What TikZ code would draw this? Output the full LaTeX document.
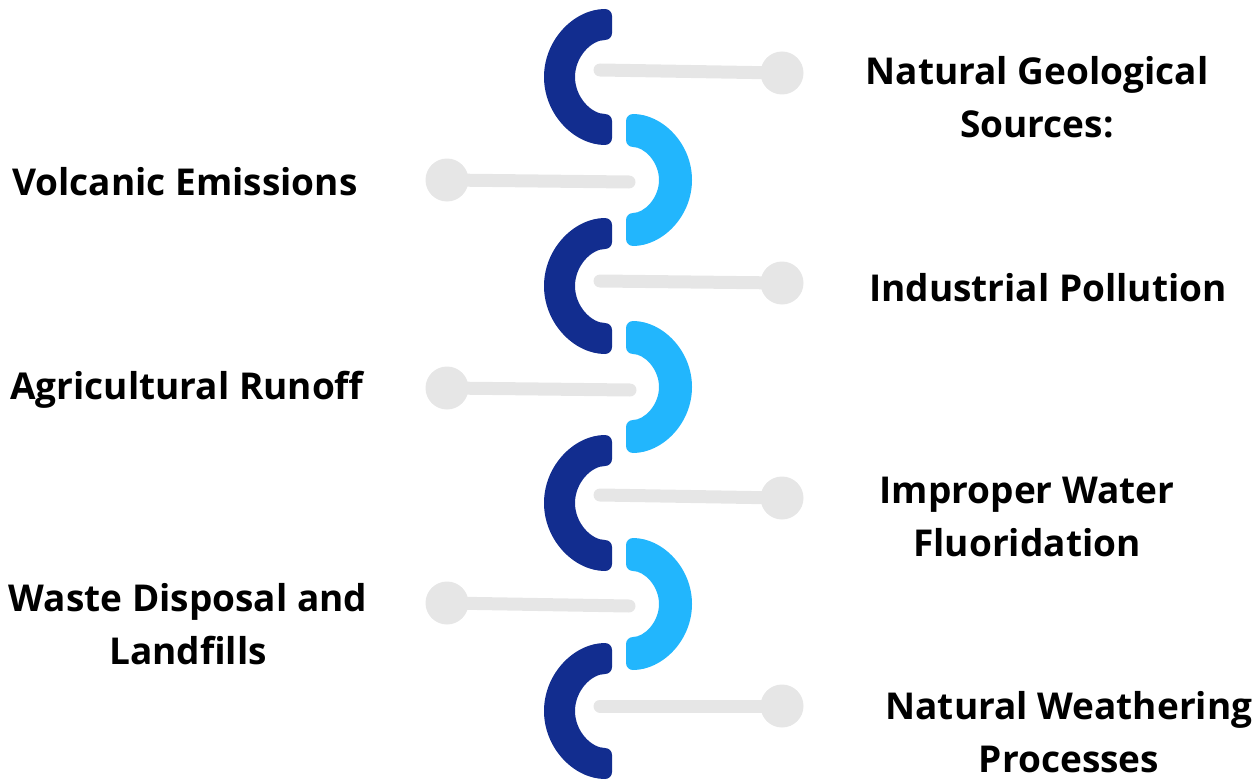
\documentclass[tikz,border=0pt]{standalone}
\usepackage{fontspec}
\setmainfont{Open Sans}
\definecolor{darkc}{HTML}{122D8F}
\definecolor{lightc}{HTML}{22B6FD}
\definecolor{greyc}{HTML}{E6E6E6}
\begin{document}
\begin{tikzpicture}[x=1pt,y=-1pt,
  conn/.style={draw=greyc,line width=13pt,line cap=round},
  dot/.style={circle,fill=greyc,minimum size=43pt,inner sep=0pt},
  lbl/.style={font=\fontsize{37}{53}\selectfont\bfseries,align=center,inner sep=0pt},
  darkarc/.style={fill=darkc,rounded corners=7pt},
  lightarc/.style={fill=lightc,rounded corners=7pt}]
\useasboundingbox (0,0) rectangle (1258,781);
% dark C shapes (open right)
\foreach \cy in {77,286,503,711}{
  \path[darkarc] (612,\cy-68) arc[start angle=-90,end angle=-270,radius=68] -- (612,\cy+37) arc[start angle=90,end angle=270,radius=37] -- cycle;
}
% light C shapes (open left)
\foreach \cy in {180,387,604}{
  \path[lightarc] (626,\cy-66) arc[start angle=-90,end angle=90,radius=66] -- (626,\cy+33) arc[start angle=90,end angle=-90,radius=33] -- cycle;
}
% right connectors
\node[dot] (r1) at (782,73) {};
\node[dot] (r2) at (782,283) {};
\node[dot] (r3) at (782,498) {};
\node[dot] (r4) at (782,706) {};
\coordinate (re1) at (600,70);
\coordinate (re2) at (600,281);
\coordinate (re3) at (600,495);
\coordinate (re4) at (600,706);
\foreach \i in {1,...,4}{\draw[conn] (re\i) -- (r\i.center);}
% left connectors
\node[dot] (l1) at (447,180) {};
\node[dot] (l2) at (447,388) {};
\node[dot] (l3) at (447,603) {};
\coordinate (le1) at (629,182);
\coordinate (le2) at (630,390);
\coordinate (le3) at (629,606);
\foreach \i in {1,...,3}{\draw[conn] (l\i.center) -- (le\i);}
% labels
\node[lbl] (t1) at (1037,97) {Natural Geological\\Sources:};
\node[lbl] (t2) at (185,182) {Volcanic Emissions};
\node[lbl] (t3) at (1048,288) {Industrial Pollution};
\node[lbl] (t4) at (187,390) {Agricultural Runoff};
\node[lbl] (t5) at (1027,517) {Improper Water\\Fluoridation};
\node[lbl] (t6) at (188,624) {Waste Disposal and\\Landfills};
\node[lbl] (t7) at (1069,732) {Natural Weathering\\Processes};
\end{tikzpicture}
\end{document}
